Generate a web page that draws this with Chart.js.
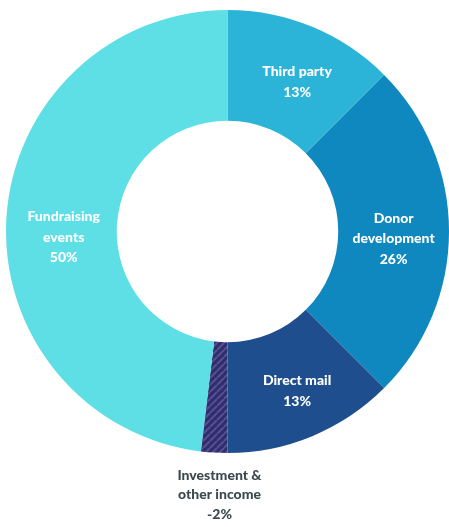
<!DOCTYPE html>
<html>
<head>
<meta charset="utf-8">
<script src="https://cdn.jsdelivr.net/npm/chart.js@4.4.1/dist/chart.umd.min.js"></script>
<style>
html,body{margin:0;padding:0;background:#fff;}
#wrap{width:449px;height:527px;position:relative;}
</style>
</head>
<body>
<div id="wrap"><canvas id="c" width="449" height="527"></canvas></div>
<script>
const categories = ["Third party", "Donor development", "Direct mail", "Investment & other income", "Fundraising events"];
const labelLines = [["Third party"], ["Donor", "development"], ["Direct mail"], ["Investment &", "other income"], ["Fundraising", "events"]];
const values = [13, 26, 13, -2, 50];
const colors = ["#2bb4d7", "#0f87bf", "#1f4e8e", null, "#5edfe6"];

function hatch() {
  const s = 7;
  const p = document.createElement("canvas");
  p.width = s; p.height = s;
  const g = p.getContext("2d");
  g.fillStyle = "#2c2f6c";
  g.fillRect(0, 0, s, s);
  g.strokeStyle = "#5a4e95";
  g.lineWidth = 2;
  g.beginPath();
  for (let k = -1; k <= 1; k++) {
    g.moveTo(k * s, s);
    g.lineTo(k * s + s, 0);
  }
  g.stroke();
  return g.createPattern(p, "repeat");
}

const bg = colors.map(c => c === null ? hatch() : c);

const labelPlugin = {
  id: "sliceLabels",
  afterDatasetsDraw(chart) {
    const ctx = chart.ctx;
    const meta = chart.getDatasetMeta(0);
    ctx.save();
    ctx.font = "900 14px Lato";
    ctx.textAlign = "center";
    ctx.textBaseline = "middle";
    const lh = 20.5;
    meta.data.forEach((arc, i) => {
      const lines = labelLines[i].concat([values[i] + "%"]);
      let x, y;
      if (values[i] < 0) {
        const p = arc.getProps(["x", "y", "outerRadius"], true);
        x = p.x - 8;
        y = p.y + p.outerRadius + 22;
        ctx.fillStyle = "#3b4a4e";
        lines.forEach((t, j) => ctx.fillText(t, x, y + j * 19.5));
      } else {
        const c = arc.getCenterPoint();
        x = c.x; y = c.y;
        const off = {0: [6, 4], 1: [0, 7], 2: [6, 6], 4: [2, 16]}[i] || [0, 0];
        x += off[0]; y += off[1];
        ctx.fillStyle = "#ffffff";
        const y0 = y - (lines.length - 1) * lh / 2;
        lines.forEach((t, j) => ctx.fillText(t, x, y0 + j * lh));
      }
    });
    ctx.restore();
  }
};

new Chart(document.getElementById("c"), {
  type: "doughnut",
  data: {
    labels: categories,
    datasets: [{
      data: values.map(v => Math.abs(v)),
      backgroundColor: bg,
      borderWidth: 0,
      hoverOffset: 0
    }]
  },
  options: {
    responsive: false,
    animation: false,
    events: [],
    cutout: "50%",
    layout: { padding: { left: 6, right: 0, top: 10, bottom: 74 } },
    plugins: { legend: { display: false }, tooltip: { enabled: false } }
  },
  plugins: [labelPlugin]
});
</script>
</body>
</html>
